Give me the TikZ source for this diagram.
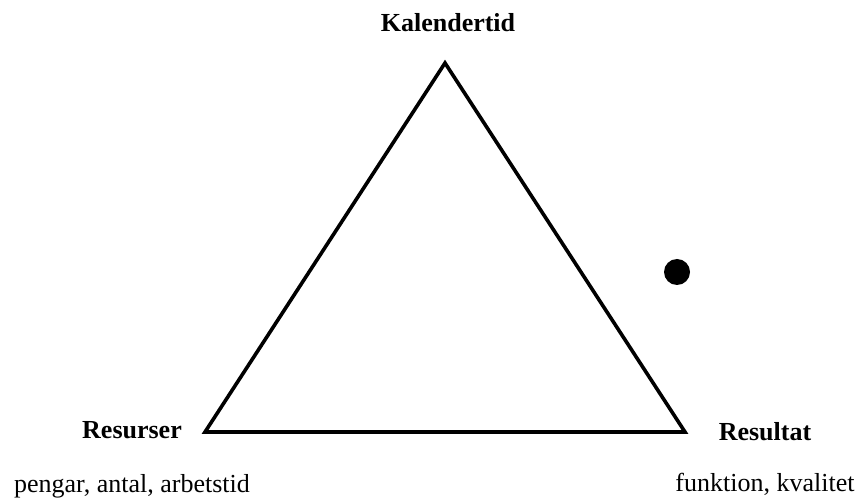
\documentclass[tikz,border=0pt]{standalone}
\usepackage{fontspec}
\setmainfont{Liberation Serif}
\begin{document}
\begin{tikzpicture}[x=1pt,y=-1pt,
  lbl/.style={font=\fontsize{26}{30}\selectfont\bfseries, inner sep=0pt, anchor=base},
  sub/.style={font=\fontsize{26}{30}\selectfont, inner sep=0pt, anchor=base}]
\useasboundingbox (0,0) rectangle (862,502);
\coordinate (T) at (445,63);
\coordinate (L) at (205,432);
\coordinate (R) at (685,432);
\draw[line width=3.6pt, line join=miter] (T) -- (L) -- (R) -- cycle;
\node[circle, fill=black, minimum size=26pt, inner sep=0pt] (dot) at (677,272) {};
\node[lbl] (kal) at (448,32) {Kalendertid};
\node[lbl] (res) at (132,438) {Resurser};
\node[lbl] (rst) at (765,440) {Resultat};
\node[sub] (peng) at (132,492) {pengar, antal, arbetstid};
\node[sub] (funk) at (765,491) {funktion, kvalitet};
\end{tikzpicture}
\end{document}
